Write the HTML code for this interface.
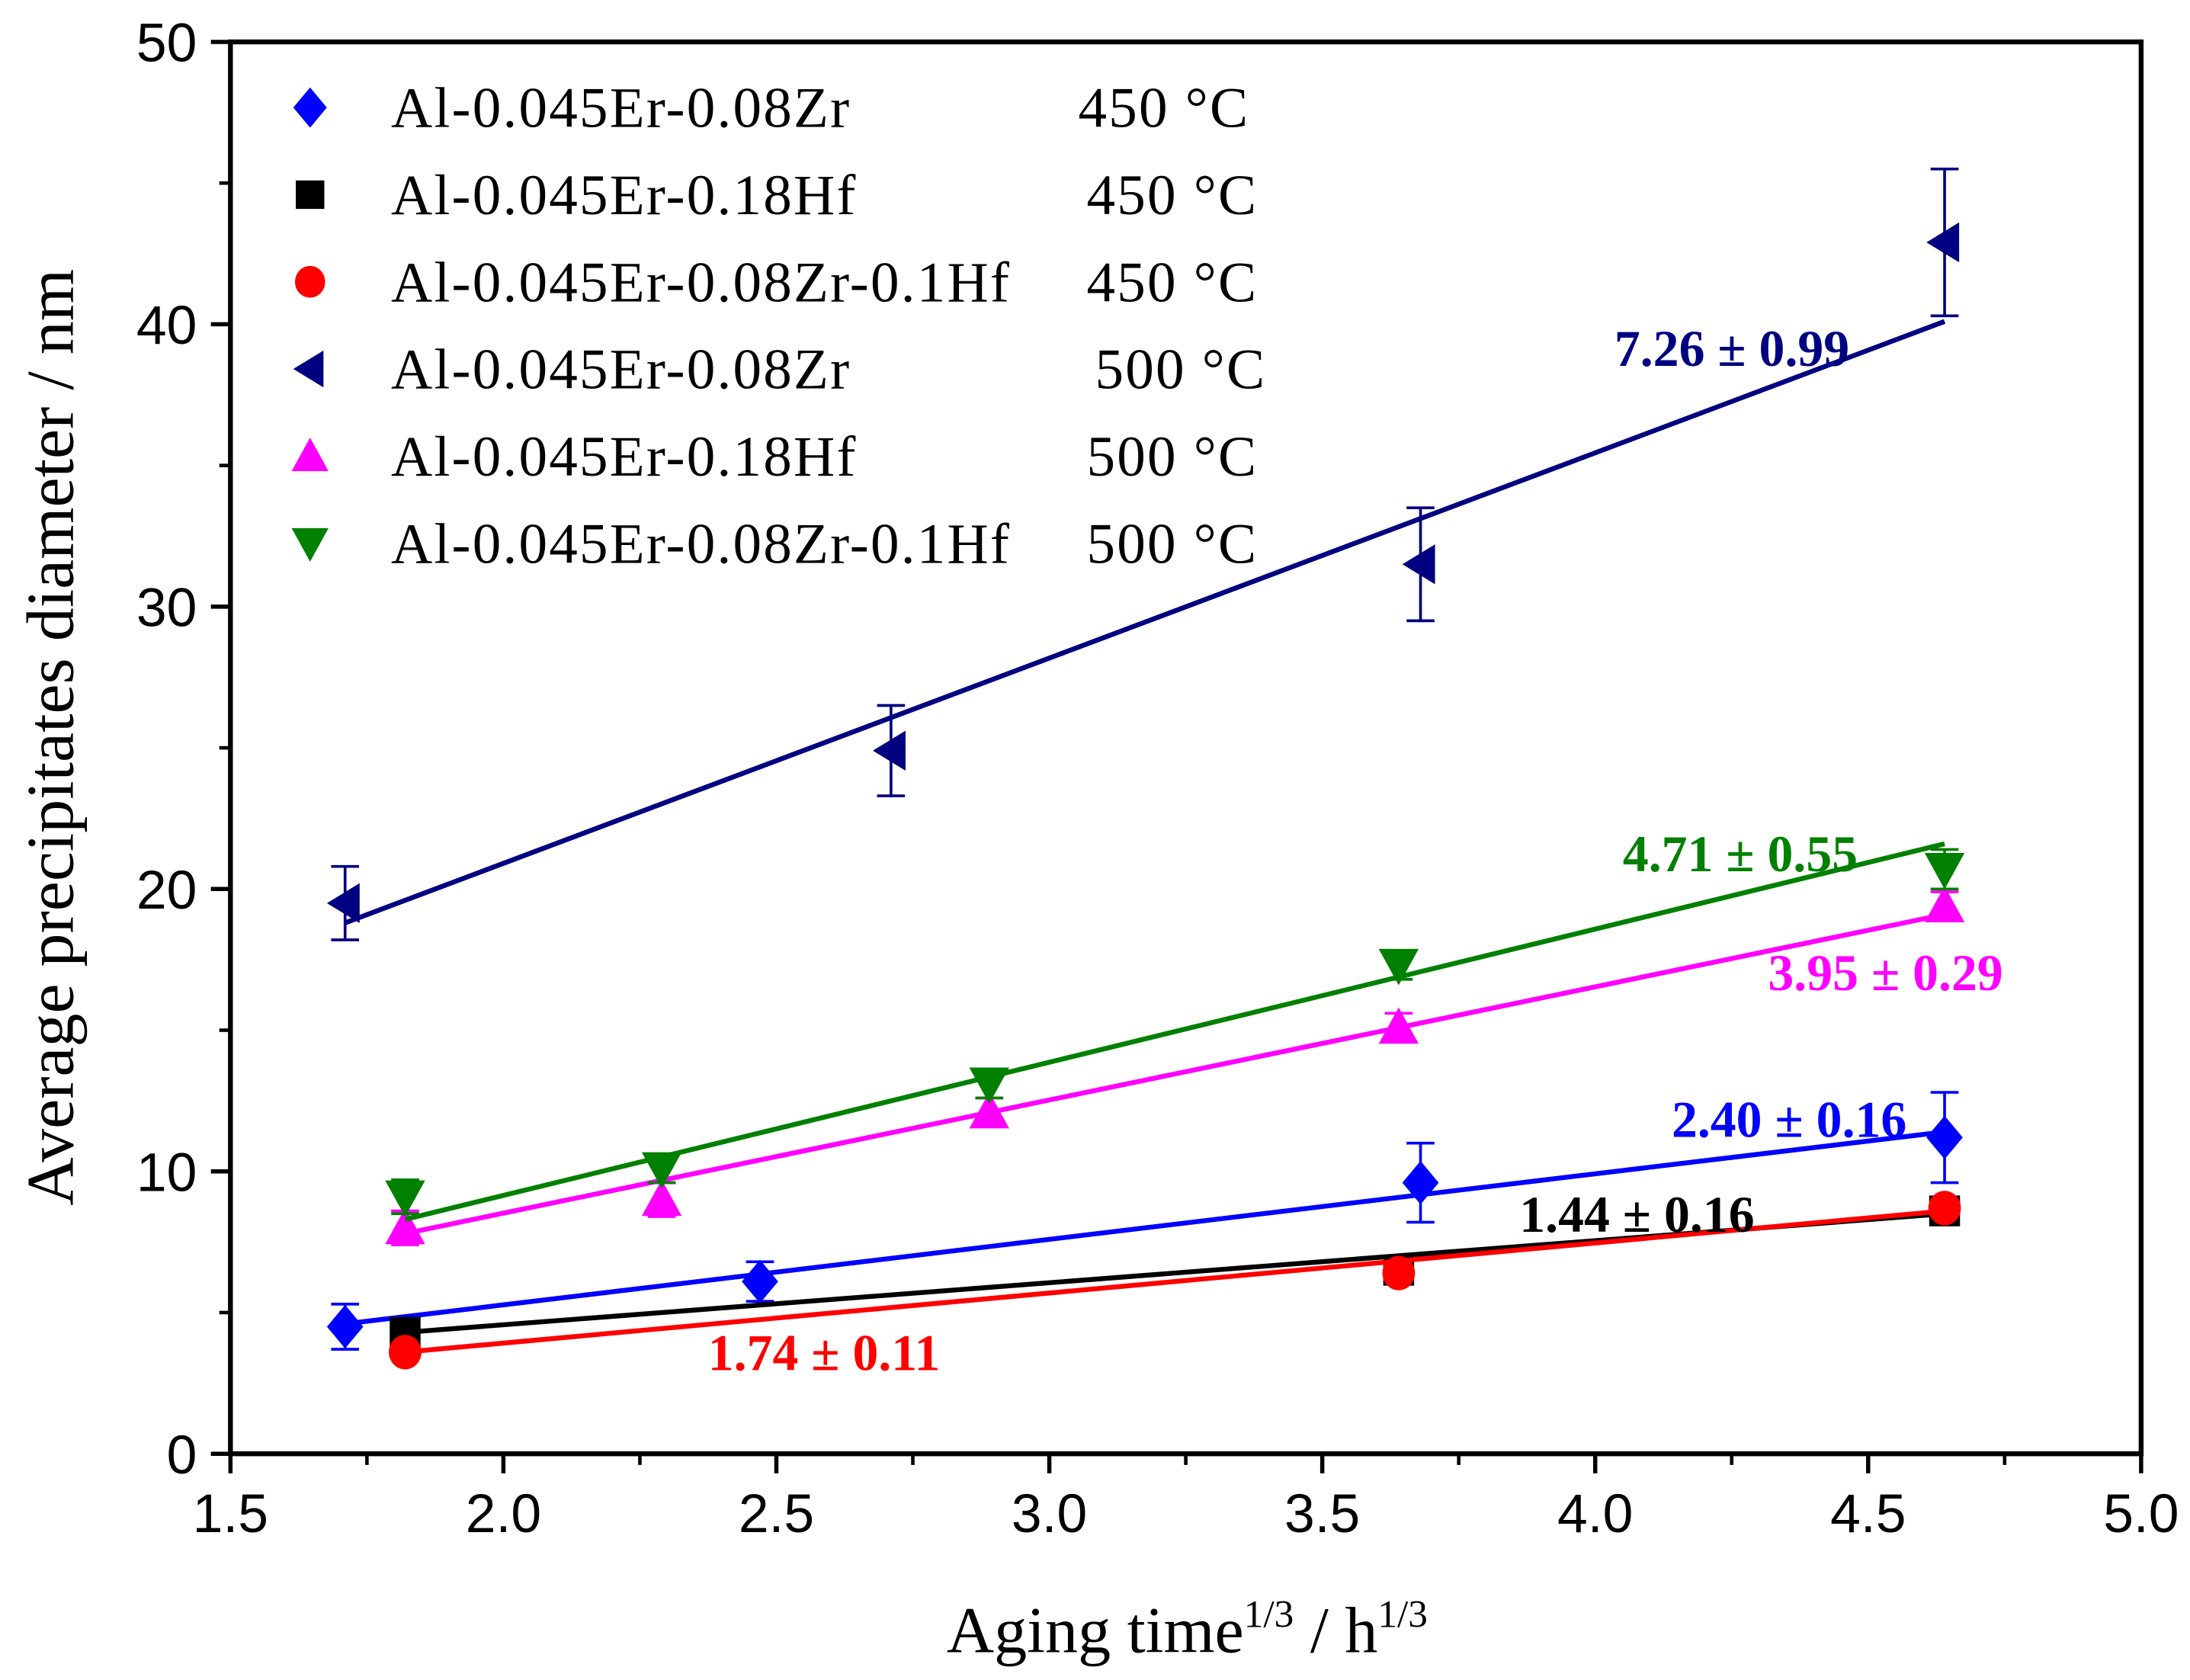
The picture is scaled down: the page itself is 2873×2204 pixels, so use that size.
<!DOCTYPE html>
<html><head><meta charset="utf-8"><style>html,body{margin:0;padding:0;background:#fff}svg{display:block}</style></head>
<body>
<svg id="chart" xmlns="http://www.w3.org/2000/svg" width="2873" height="2204" viewBox="0 0 1568 1203" preserveAspectRatio="none">
<g id="axes"></g>
<g id="series"></g>
<g id="legend"></g>
</svg>
<script>
const xTicks=[1.5,2.0,2.5,3.0,3.5,4.0,4.5,5.0];
const xTickLabels=["1.5","2.0","2.5","3.0","3.5","4.0","4.5","5.0"];
const yTicks=[0,10,20,30,40,50];
const yTickLabels=["0","10","20","30","40","50"];
const zr450X=[1.71,2.47,3.68,4.64];
const zr450Y=[4.5,6.1,9.6,11.2];
const zr450Err=[0.8,0.7,1.4,1.6];
const zr450Fit=[4.6,11.4];
const hf450X=[1.82,3.64,4.64];
const hf450Y=[4.3,6.5,8.6];
const hf450Fit=[4.3,8.5];
const zrhf450X=[1.82,3.64,4.64];
const zrhf450Y=[3.6,6.4,8.7];
const zrhf450Fit=[3.6,8.6];
const zr500X=[1.71,2.71,3.68,4.64];
const zr500Y=[19.5,24.9,31.5,42.9];
const zr500Err=[1.3,1.6,2.0,2.6];
const zr500Fit=[18.8,40.1];
const hf500X=[1.82,2.29,2.89,3.64,4.64];
const hf500Y=[8.0,9.0,12.1,15.1,19.4];
const hf500Err=[0.6,0.6,0.5,0.5,0.5];
const hf500Fit=[7.8,19.1];
const zrhf500X=[1.82,2.29,2.89,3.64,4.64];
const zrhf500Y=[9.1,10.1,13.1,17.3,20.7];
const zrhf500Err=[0.6,0.5,0.5,0.5,0.7];
const zrhf500Fit=[8.3,21.6];

const NS="http://www.w3.org/2000/svg";
const L=165,R=1533,T=30,B=1041;
function X(v){return L+(v-1.5)*(R-L)/3.5;}
function Y(v){return B-v*(B-T)/50;}
function mk(tag,at,parent){const e=document.createElementNS(NS,tag);for(const k in at)e.setAttribute(k,at[k]);parent.appendChild(e);return e;}
const ax=document.getElementById('axes'),se=document.getElementById('series'),lg=document.getElementById('legend');

let frame=mk('rect',{x:L,y:T,width:R-L,height:B-T,fill:'none',stroke:'#000','stroke-width':3.5},ax);

for(let i=0;i<xTicks.length;i++){
  const x=X(xTicks[i]);
  let t=mk('line',{x1:x,y1:B,x2:x,y2:B+14,stroke:'#000','stroke-width':3},ax);
  
  let tl=mk('text',{x:x,y:B+56,'text-anchor':'middle','font-family':'Liberation Sans, sans-serif','font-size':39},ax);
  tl.textContent=xTickLabels[i];
  
  if(i<xTicks.length-1){const xm=X(xTicks[i]+0.25);
    let m=mk('line',{x1:xm,y1:B,x2:xm,y2:B+8,stroke:'#000','stroke-width':2.5},ax);
    }
}
for(let i=0;i<yTicks.length;i++){
  const y=Y(yTicks[i]);
  let t=mk('line',{x1:L-14,y1:y,x2:L,y2:y,stroke:'#000','stroke-width':3},ax);
  
  let tl=mk('text',{x:L-24,y:y+14,'text-anchor':'end','font-family':'Liberation Sans, sans-serif','font-size':39},ax);
  tl.textContent=yTickLabels[i];
  
  if(i<yTicks.length-1){const ym=Y(yTicks[i]+5);
    let m=mk('line',{x1:L-8,y1:ym,x2:L,y2:ym,stroke:'#000','stroke-width':2.5},ax);
    }
}
let xt=mk('text',{x:850,y:1183,'text-anchor':'middle','font-family':'Liberation Serif, serif','font-size':47},ax);
xt.innerHTML='Aging time<tspan dy="-18" font-size="28">1/3</tspan><tspan dy="18"> / h</tspan><tspan dy="-18" font-size="28">1/3</tspan>';

let yt=mk('text',{x:0,y:0,'text-anchor':'middle','font-family':'Liberation Serif, serif','font-size':48,transform:'translate(52,528) rotate(-90)'},ax);
yt.textContent='Average precipitates diameter / nm';


function marker(shape,cx,cy,color,parent,s){
  s=s||13;let e;
  if(shape==='diamond')e=mk('polygon',{points:`${cx},${cy-s*1.2} ${cx+s},${cy} ${cx},${cy+s*1.2} ${cx-s},${cy}`,fill:color},parent);
  else if(shape==='square')e=mk('rect',{x:cx-s*0.85,y:cy-s*0.85,width:s*1.7,height:s*1.7,fill:color},parent);
  else if(shape==='circle')e=mk('ellipse',{cx:cx,cy:cy,rx:s*0.9,ry:s*0.95,fill:color},parent);
  else if(shape==='left')e=mk('polygon',{points:`${cx-s},${cy} ${cx+s*0.8},${cy-s*1.1} ${cx+s*0.8},${cy+s*1.1}`,fill:color},parent);
  else if(shape==='up')e=mk('polygon',{points:`${cx},${cy-s*1.1} ${cx+s*1.1},${cy+s*0.9} ${cx-s*1.1},${cy+s*0.9}`,fill:color},parent);
  else e=mk('polygon',{points:`${cx},${cy+s*1.1} ${cx+s*1.1},${cy-s*0.9} ${cx-s*1.1},${cy-s*0.9}`,fill:color},parent);
  return e;
}
function drawSeries(name,xs,ys,errs,fit,shape,color){
  const g=mk('g',{},se);
  
  let ln=mk('line',{x1:X(xs[0]),y1:Y(fit[0]),x2:X(xs[xs.length-1]),y2:Y(fit[1]),stroke:color,'stroke-width':3.5},g);
  
  for(let i=0;i<xs.length;i++){
    const cx=X(xs[i]),cy=Y(ys[i]);
    if(errs){const e=errs[i],y1=Y(ys[i]+e),y2=Y(ys[i]-e);
      let eb=mk('path',{d:`M${cx},${y1}V${y2}M${cx-10},${y1}H${cx+10}M${cx-10},${y2}H${cx+10}`,stroke:color,'stroke-width':2,fill:'none'},g);
      }
    let m=marker(shape,cx,cy,color,g);
    
  }
}
drawSeries('zr-450',zr450X,zr450Y,zr450Err,zr450Fit,'diamond','#0000ff');
drawSeries('hf-450',hf450X,hf450Y,null,hf450Fit,'square','#000000');
drawSeries('zrhf-450',zrhf450X,zrhf450Y,null,zrhf450Fit,'circle','#ff0000');
drawSeries('zr-500',zr500X,zr500Y,zr500Err,zr500Fit,'left','#000080');
drawSeries('hf-500',hf500X,hf500Y,hf500Err,hf500Fit,'up','#ff00ff');
drawSeries('zrhf-500',zrhf500X,zrhf500Y,zrhf500Err,zrhf500Fit,'down','#008000');

const ann=[['7.26 ± 0.99',1240,262,'#000080'],['4.71 ± 0.55',1246,624,'#008000'],['3.95 ± 0.29',1350,709,'#ff00ff'],['2.40 ± 0.16',1281,814,'#0000ff'],['1.44 ± 0.16',1172,882,'#000000'],['1.74 ± 0.11',590,981,'#ff0000']];
ann.forEach(a=>{let t=mk('text',{x:a[1],y:a[2],'text-anchor':'middle','font-family':'Liberation Serif, serif','font-size':37,'font-weight':'bold',fill:a[3]},se);
  t.textContent=a[0];});

const legNames=['Al-0.045Er-0.08Zr','Al-0.045Er-0.18Hf','Al-0.045Er-0.08Zr-0.1Hf','Al-0.045Er-0.08Zr','Al-0.045Er-0.18Hf','Al-0.045Er-0.08Zr-0.1Hf'];
const legTemps=['450 °C','450 °C','450 °C','500 °C','500 °C','500 °C'];
const legTempX=[772,778,778,784,778,778];
const legShapes=['diamond','square','circle','left','up','down'];
const legColors=['#0000ff','#000000','#ff0000','#000080','#ff00ff','#008000'];
for(let i=0;i<6;i++){
  const y=77+i*62.4;
  const g=mk('g',{},lg);
  let m=marker(legShapes[i],222,y,legColors[i],g,12);
  let t=mk('text',{x:280,y:y+14,'font-family':'Liberation Serif, serif','font-size':41,'letter-spacing':1.2},g);
  t.textContent=legNames[i];
  let tt=mk('text',{x:legTempX[i],y:y+14,'font-family':'Liberation Serif, serif','font-size':41,'letter-spacing':1.2},g);
  tt.textContent=legTemps[i];
}
</script>
</body></html>
